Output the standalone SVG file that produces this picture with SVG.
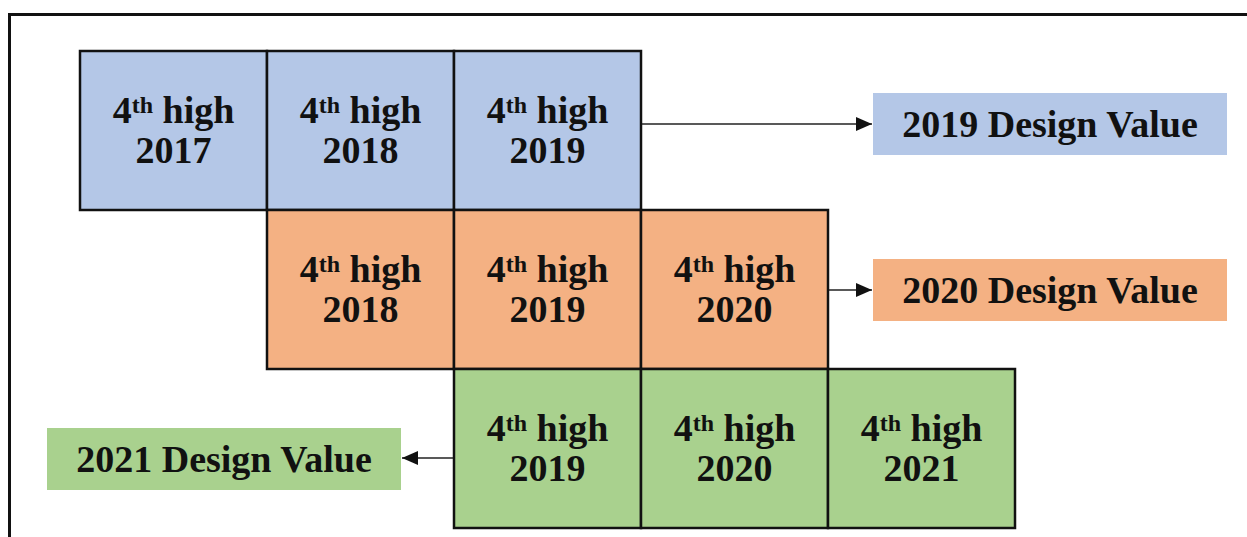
<svg xmlns="http://www.w3.org/2000/svg" width="1247" height="537" viewBox="0 0 1247 537">
<style>
.cell{stroke:#111;stroke-width:2.5}
.blue{fill:#B4C7E7}
.orange{fill:#F4B183}
.green{fill:#A9D18E}
text{font-family:"Liberation Serif","Times New Roman",serif;font-weight:bold;font-size:38px;fill:#111;text-anchor:middle}
.sup{font-size:24px}
.conn{stroke:#222;stroke-width:1.6;fill:none}
</style>
<defs>
<marker id="ah" markerWidth="16" markerHeight="14" refX="16" refY="7" orient="auto" markerUnits="userSpaceOnUse">
<path d="M0,0 L16,7 L0,14 Z" fill="#111"/>
</marker>
</defs>
<rect width="1247" height="537" fill="#fff"/>
<path d="M9.5,537 V14.5 H1247" fill="none" stroke="#111" stroke-width="3"/>

<g id="r1c1"><rect class="cell blue" x="80" y="51" width="187" height="159"/><text x="173.5" y="123">4<tspan class="sup" dy="-10">th</tspan><tspan dy="10"> high</tspan></text><text x="173.5" y="163">2017</text></g>
<g id="r1c2"><rect class="cell blue" x="267" y="51" width="187" height="159"/><text x="360.5" y="123">4<tspan class="sup" dy="-10">th</tspan><tspan dy="10"> high</tspan></text><text x="360.5" y="163">2018</text></g>
<g id="r1c3"><rect class="cell blue" x="454" y="51" width="187" height="159"/><text x="547.5" y="123">4<tspan class="sup" dy="-10">th</tspan><tspan dy="10"> high</tspan></text><text x="547.5" y="163">2019</text></g>

<g id="r2c1"><rect class="cell orange" x="267" y="210" width="187" height="159"/><text x="360.5" y="282">4<tspan class="sup" dy="-10">th</tspan><tspan dy="10"> high</tspan></text><text x="360.5" y="322">2018</text></g>
<g id="r2c2"><rect class="cell orange" x="454" y="210" width="187" height="159"/><text x="547.5" y="282">4<tspan class="sup" dy="-10">th</tspan><tspan dy="10"> high</tspan></text><text x="547.5" y="322">2019</text></g>
<g id="r2c3"><rect class="cell orange" x="641" y="210" width="187" height="159"/><text x="734.5" y="282">4<tspan class="sup" dy="-10">th</tspan><tspan dy="10"> high</tspan></text><text x="734.5" y="322">2020</text></g>

<g id="r3c1"><rect class="cell green" x="454" y="369" width="187" height="159"/><text x="547.5" y="441">4<tspan class="sup" dy="-10">th</tspan><tspan dy="10"> high</tspan></text><text x="547.5" y="481">2019</text></g>
<g id="r3c2"><rect class="cell green" x="641" y="369" width="187" height="159"/><text x="734.5" y="441">4<tspan class="sup" dy="-10">th</tspan><tspan dy="10"> high</tspan></text><text x="734.5" y="481">2020</text></g>
<g id="r3c3"><rect class="cell green" x="828" y="369" width="187" height="159"/><text x="921.5" y="441">4<tspan class="sup" dy="-10">th</tspan><tspan dy="10"> high</tspan></text><text x="921.5" y="481">2021</text></g>

<g id="dv2019"><rect class="blue" x="873" y="93" width="354" height="62"/><text x="1050" y="137">2019 Design Value</text></g>
<g id="dv2020"><rect class="orange" x="873" y="259" width="354" height="62"/><text x="1050" y="303">2020 Design Value</text></g>
<g id="dv2021"><rect class="green" x="47" y="428" width="354" height="62"/><text x="224" y="472">2021 Design Value</text></g>

<g id="connectors">
<line class="conn" x1="642" y1="124" x2="872" y2="124" marker-end="url(#ah)"/>
<line class="conn" x1="829" y1="290" x2="872" y2="290" marker-end="url(#ah)"/>
<line class="conn" x1="453" y1="458" x2="402" y2="458" marker-end="url(#ah)"/>
</g>
</svg>
